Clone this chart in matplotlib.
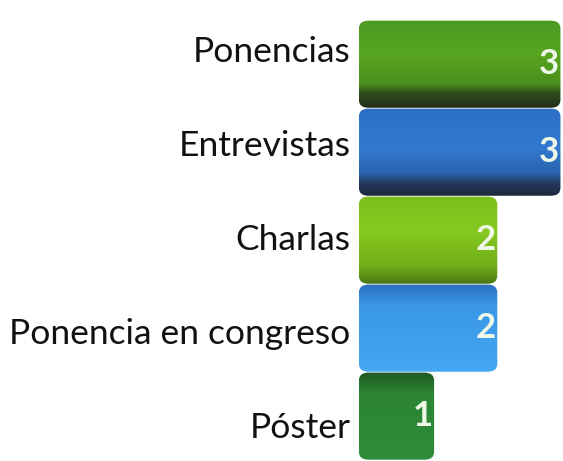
import matplotlib.pyplot as plt
from matplotlib.patches import FancyBboxPatch
from matplotlib.colors import LinearSegmentedColormap
import numpy as np

categories = ['Ponencias', 'Entrevistas', 'Charlas', 'Ponencia en congreso', 'Póster']
values = [3, 3, 2, 2, 1]

# vertical shading for each bar, top -> bottom
shades = [
    [(0.0, '#4c9a22'), (0.4, '#58a520'), (0.72, '#4b8f1c'), (0.84, '#2f4a1d'), (1.0, '#222d1b')],
    [(0.0, '#2b6fc5'), (0.45, '#3279d0'), (0.74, '#2a64ae'), (0.86, '#22385a'), (1.0, '#1c283a')],
    [(0.0, '#7cc01c'), (0.4, '#86c91f'), (0.8, '#70ae1a'), (1.0, '#4c7616')],
    [(0.0, '#2a6fbe'), (0.25, '#3a98e6'), (1.0, '#44a8f2')],
    [(0.0, '#1f5a25'), (0.25, '#2c8534'), (1.0, '#2f8c38')],
]

base = -0.19
bar_h = 0.99
label_step = 1.07   # labels spread a little wider than the bars

fig = plt.figure(figsize=(5.63, 4.61), dpi=100)
ax = fig.add_axes([0, 0, 1, 1])
ax.axis('off')

grad = np.linspace(0, 1, 256).reshape(-1, 1)
for i, (cat, val) in enumerate(zip(categories, values)):
    top = i - bar_h / 2
    box = FancyBboxPatch((base, top), val - base, bar_h,
                         boxstyle='round,pad=0,rounding_size=0.15',
                         mutation_aspect=0.6, linewidth=0,
                         facecolor='none', zorder=2 + i)
    ax.add_patch(box)
    cmap = LinearSegmentedColormap.from_list(cat, shades[i])
    im = ax.imshow(grad, cmap=cmap, aspect='auto', interpolation='bilinear',
                   extent=(base, val, top + bar_h, top), zorder=2 + i)
    im.set_clip_path(box)

    ax.text(-0.32, 2 + (i - 2) * label_step, cat, ha='right', va='center',
            fontsize=25.5, family='Lato', color='#111111')
    ax.text(val - 0.02, i, str(val), ha='right', va='center', fontsize=25,
            family='Lato', fontweight='bold', color='#eef8e8', zorder=10)

ax.set_xlim(-5.87, 3.04)
ax.set_ylim(4.51, -0.73)
fig.savefig('out.png', dpi=100)
